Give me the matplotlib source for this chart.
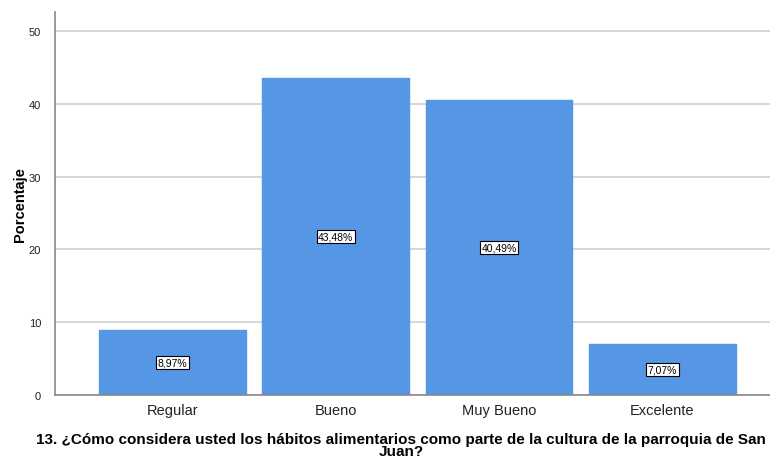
import numpy as np
import matplotlib.pyplot as plt

categorias = ['Regular', 'Bueno', 'Muy Bueno', 'Excelente']
porcentajes = [8.97, 43.48, 40.49, 7.07]
etiquetas = ['8,97%', '43,48%', '40,49%', '7,07%']
yticks = [0, 10, 20, 30, 40, 50]

plt.rcParams['font.family'] = ['Liberation Sans', 'DejaVu Sans']

fig = plt.figure(figsize=(7.7, 4.6), dpi=100)
ax = fig.add_axes([55 / 770, 64 / 460, 715 / 770, 383 / 460])

x = np.arange(len(categorias))
ax.bar(x, porcentajes, width=0.9, color='#5596e5', edgecolor='#5596e5', zorder=2)

for xi, v, t in zip(x, porcentajes, etiquetas):
	ax.text(xi, v / 2, t, ha='center', va='center', fontsize=7.5, zorder=3,
		bbox=dict(boxstyle='square,pad=0.15', facecolor='white', edgecolor='black', linewidth=0.8))

ax.set_xlim(-0.72, 3.66)
ax.set_ylim(0, 52.6)
ax.set_yticks(yticks)
ax.set_xticks(x)
ax.set_xticklabels(categorias, fontsize=10.5, color='#222222')
ax.tick_params(axis='y', labelsize=8, length=0, pad=10, labelcolor='#222222')
ax.tick_params(axis='x', length=0, pad=6)
ax.yaxis.grid(True, color='#d0d0d0', linewidth=1.2, zorder=0)
ax.set_axisbelow(True)

for s in ['top', 'right']:
	ax.spines[s].set_visible(False)
ax.spines['left'].set_color('#888888')
ax.spines['bottom'].set_color('#888888')
ax.spines['left'].set_linewidth(1.2)
ax.spines['bottom'].set_linewidth(1.2)

ax.set_ylabel('Porcentaje', fontsize=10.5, fontweight='bold', labelpad=1)
fig.text(401 / 770, 14 / 460,
	'13. ¿Cómo considera usted los hábitos alimentarios como parte de la cultura de la parroquia de San\nJuan?',
	ha='center', va='center', fontsize=11, fontweight='bold', linespacing=0.85)

fig.savefig('out.png', dpi=100)
